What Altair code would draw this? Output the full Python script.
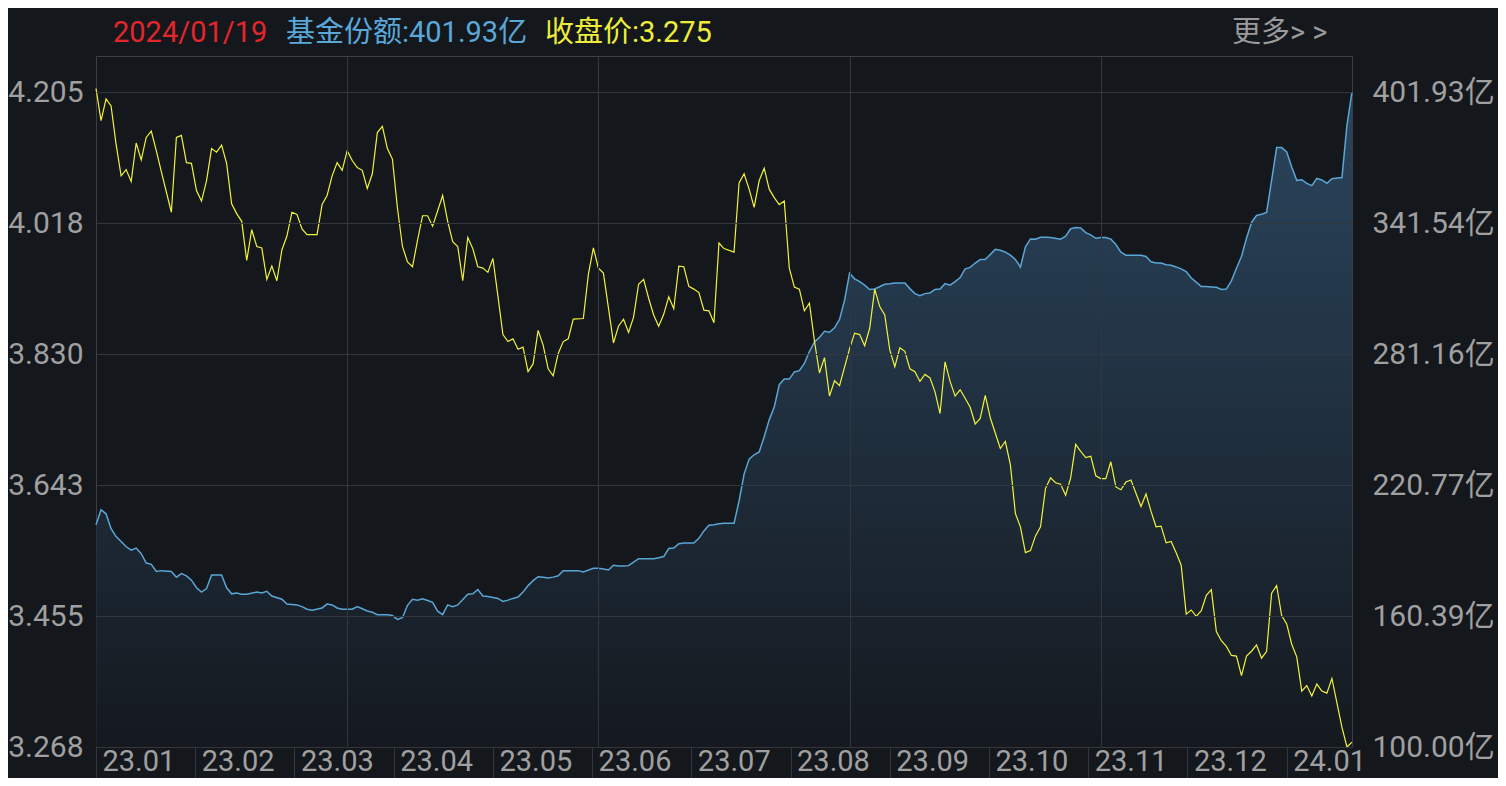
import json
import altair as alt
import pandas as pd

# ---------------- data ----------------
close_day = [0, 1, 2, 3, 4, 5, 6, 7, 8, 9, 10, 11, 12, 13, 15, 16, 17, 18, 19, 20,
             21, 22, 23, 24, 25, 26, 27, 28, 29, 30, 31, 32, 33, 34, 35, 36, 37, 38, 39, 40,
             41, 42, 44, 45, 46, 47, 48, 49, 50, 51, 52, 53, 54, 55, 56, 57, 58, 59, 60, 61,
             62, 63, 64, 65, 66, 67, 69, 70, 71, 72, 73, 74, 75, 76, 77, 78, 79, 80, 81, 82,
             83, 84, 85, 86, 87, 88, 89, 90, 91, 92, 93, 94, 95, 97, 98, 99, 100, 101, 102, 103,
             104, 105, 106, 107, 108, 109, 110, 111, 112, 113, 114, 115, 116, 117, 118, 119, 120, 121, 122, 123,
             124, 125, 127, 128, 129, 130, 131, 132, 133, 134, 135, 136, 137, 138, 139, 140, 141, 142, 143, 144,
             145, 146, 147, 148, 150, 151, 152, 153, 154, 155, 156, 157, 158, 159, 160, 161, 162, 163, 164, 165,
             166, 167, 168, 169, 170, 171, 172, 173, 174, 175, 176, 177, 178, 180, 181, 182, 183, 184, 185, 186,
             187, 188, 189, 190, 191, 192, 193, 194, 195, 196, 197, 198, 199, 200, 201, 202, 203, 204, 205, 206,
             208, 209, 210, 211, 212, 213, 214, 215, 216, 217, 218, 219, 220, 221, 222, 223, 224, 225, 226, 227,
             228, 229, 230, 231, 232, 233, 234, 235, 236, 237, 238, 239, 240, 241, 242, 243, 244, 245, 246, 248,
             249, 250]
close_val = [4.210, 4.164, 4.195, 4.185, 4.130, 4.085, 4.094, 4.077, 4.132, 4.108, 4.140, 4.149, 4.121, 4.091, 4.033, 4.140, 4.143, 4.104, 4.103, 4.064,
             4.049, 4.078, 4.124, 4.119, 4.129, 4.103, 4.045, 4.031, 4.020, 3.964, 4.008, 3.984, 3.982, 3.937, 3.956, 3.935, 3.979, 3.999, 4.033, 4.030,
             4.009, 4.001, 4.001, 4.044, 4.057, 4.085, 4.104, 4.093, 4.121, 4.107, 4.097, 4.093, 4.067, 4.088, 4.147, 4.156, 4.124, 4.109, 4.039, 3.984,
             3.962, 3.955, 3.993, 4.028, 4.028, 4.013, 4.057, 4.020, 3.991, 3.984, 3.935, 3.997, 3.981, 3.955, 3.953, 3.947, 3.967, 3.913, 3.858, 3.848,
             3.852, 3.837, 3.840, 3.805, 3.816, 3.864, 3.843, 3.809, 3.799, 3.831, 3.848, 3.852, 3.880, 3.881, 3.944, 3.982, 3.953, 3.946, 3.896, 3.846,
             3.870, 3.880, 3.861, 3.883, 3.930, 3.937, 3.910, 3.886, 3.870, 3.887, 3.912, 3.895, 3.956, 3.955, 3.927, 3.923, 3.918, 3.893, 3.892, 3.875,
             3.989, 3.981, 3.976, 4.075, 4.088, 4.066, 4.040, 4.078, 4.096, 4.066, 4.054, 4.044, 4.049, 3.953, 3.926, 3.923, 3.892, 3.903, 3.849, 3.803,
             3.825, 3.770, 3.792, 3.785, 3.838, 3.860, 3.858, 3.842, 3.867, 3.923, 3.898, 3.886, 3.836, 3.812, 3.839, 3.834, 3.809, 3.805, 3.791, 3.801,
             3.796, 3.776, 3.745, 3.819, 3.791, 3.770, 3.779, 3.767, 3.754, 3.730, 3.738, 3.771, 3.739, 3.695, 3.705, 3.672, 3.602, 3.583, 3.546, 3.549,
             3.570, 3.583, 3.638, 3.653, 3.646, 3.644, 3.628, 3.653, 3.701, 3.691, 3.682, 3.684, 3.656, 3.652, 3.652, 3.676, 3.640, 3.636, 3.647, 3.650,
             3.612, 3.630, 3.605, 3.583, 3.584, 3.560, 3.562, 3.546, 3.528, 3.458, 3.464, 3.455, 3.463, 3.485, 3.493, 3.433, 3.420, 3.412, 3.399, 3.398,
             3.370, 3.398, 3.405, 3.414, 3.395, 3.405, 3.488, 3.499, 3.456, 3.444, 3.415, 3.397, 3.348, 3.356, 3.341, 3.358, 3.348, 3.345, 3.366, 3.296,
             3.268, 3.275]

share_day = [0, 1, 2, 3, 4, 5, 6, 7, 8, 9, 10, 11, 12, 13, 15, 16, 17, 18, 19, 20,
             21, 22, 23, 25, 26, 27, 28, 29, 30, 32, 33, 34, 35, 37, 38, 40, 41, 42, 43, 45,
             46, 47, 48, 49, 51, 52, 53, 54, 55, 56, 58, 59, 60, 61, 62, 63, 64, 65, 66, 67,
             68, 69, 70, 71, 72, 74, 75, 76, 77, 78, 80, 81, 82, 83, 84, 85, 86, 87, 88, 89,
             90, 91, 92, 93, 95, 96, 97, 99, 100, 101, 102, 103, 104, 105, 106, 107, 108, 109, 111, 112,
             113, 114, 115, 116, 117, 119, 120, 121, 122, 123, 124, 125, 127, 128, 129, 130, 131, 132, 133, 134,
             135, 136, 137, 138, 139, 140, 141, 142, 143, 144, 145, 146, 147, 148, 149, 150, 151, 152, 153, 154,
             155, 157, 158, 159, 161, 162, 163, 164, 165, 166, 167, 168, 169, 170, 171, 172, 173, 174, 175, 176,
             177, 179, 180, 181, 182, 183, 184, 185, 186, 187, 188, 189, 190, 192, 193, 194, 195, 196, 197, 198,
             199, 200, 201, 202, 203, 204, 205, 206, 208, 209, 210, 211, 212, 213, 214, 215, 216, 217, 218, 219,
             220, 221, 222, 223, 224, 225, 226, 227, 228, 229, 230, 231, 232, 233, 234, 235, 236, 237, 238, 239,
             240, 241, 242, 243, 244, 245, 246, 248, 249, 250]
share_val = [202.5, 209.4, 207.5, 200.6, 197.0, 194.7, 192.3, 190.7, 191.7, 189.1, 184.8, 184.2, 180.9, 181.3, 180.9, 178.3, 179.9, 178.9, 176.9, 173.4,
             171.4, 173.0, 179.3, 179.3, 173.4, 170.6, 171.0, 170.4, 170.4, 171.4, 171.0, 171.8, 169.6, 168.1, 165.9, 165.5, 164.7, 163.5, 163.1, 164.1,
             165.9, 165.5, 164.1, 163.5, 163.5, 164.7, 163.7, 162.7, 162.1, 161.0, 161.0, 160.6, 158.8, 159.6, 165.3, 168.1, 167.7, 168.3, 167.5, 166.7,
             162.6, 161.0, 165.5, 164.7, 165.5, 170.4, 170.6, 172.6, 169.6, 169.4, 168.5, 167.1, 167.7, 168.5, 169.1, 171.4, 174.4, 176.7, 178.5, 178.3,
             177.9, 178.3, 178.9, 181.3, 181.3, 181.3, 180.7, 182.4, 182.4, 182.0, 181.6, 183.8, 183.4, 183.4, 183.6, 185.2, 186.8, 186.8, 186.8, 187.2,
             187.8, 191.5, 191.7, 193.7, 194.0, 194.0, 196.2, 199.6, 202.2, 202.5, 202.9, 203.1, 203.1, 213.4, 225.8, 232.7, 234.7, 236.0, 243.0, 250.8,
             256.7, 267.0, 269.6, 269.6, 272.9, 273.5, 276.8, 282.3, 286.7, 288.8, 291.6, 291.2, 293.2, 297.1, 306.0, 318.4, 315.8, 314.5, 312.9, 310.9,
             311.1, 313.3, 313.5, 313.9, 313.9, 311.3, 309.0, 308.0, 309.0, 309.3, 310.9, 311.1, 313.6, 312.9, 314.5, 316.4, 320.4, 321.1, 323.1, 324.7,
             324.7, 329.4, 329.0, 328.1, 326.7, 324.7, 321.2, 330.6, 334.2, 334.1, 335.0, 335.0, 334.9, 334.1, 335.5, 338.9, 339.5, 339.3, 337.1, 336.1,
             334.5, 334.9, 334.9, 334.1, 331.6, 328.1, 326.7, 326.7, 326.7, 326.1, 323.7, 323.1, 323.1, 322.3, 322.1, 321.3, 320.4, 319.2, 316.2, 314.3,
             312.3, 312.3, 312.1, 311.9, 310.9, 311.1, 314.9, 320.7, 326.1, 334.5, 341.8, 345.0, 345.6, 346.4, 361.2, 376.3, 376.3, 374.3, 367.4, 361.2,
             361.5, 359.8, 358.8, 362.1, 361.4, 359.9, 362.0, 362.5, 386.8, 401.93]

month_labels = ["23.01", "23.02", "23.03", "23.04", "23.05", "23.06", "23.07",
                "23.08", "23.09", "23.10", "23.11", "23.12", "24.01"]
month_pos = [0, 19.75, 39.5, 59.25, 79, 98.75, 118.5, 138.25, 158, 177.75, 197.5, 217.25, 237]
grid_days = [50, 100, 150, 200]
left_ticks = [3.268, 3.4554, 3.6428, 3.8302, 4.0176, 4.205]
right_ticks = [100.00, 160.386, 220.772, 281.158, 341.544, 401.93]
date_text = "2024/01/19"

# ---------------- styling ----------------
BG = "#14171c"
GRID = "#33373d"
FRAME = "#3c4046"
LABEL = "#a0a0a0"
BLUE = "#5aa6d6"
YELLOW = "#f2f23a"
FONT = "Roboto, 'Noto Sans CJK SC', sans-serif"

close_df = pd.DataFrame({"day": close_day, "close": close_val})
share_df = pd.DataFrame({"day": share_day, "share": share_val})

x_scale = alt.Scale(domain=[0, 250], nice=False, zero=False)
label_expr = json.dumps(month_labels) + "[round(datum.value / 19.75)]"

area = alt.Chart(share_df).mark_area(
    line={"color": BLUE, "strokeWidth": 1.5},
    color=alt.Gradient(
        gradient="linear",
        stops=[alt.GradientStop(color="#151a20", offset=0),
               alt.GradientStop(color="#34597a", offset=1)],
        x1=1, x2=1, y1=1, y2=0,
    ),
).encode(
    x=alt.X("day:Q", scale=x_scale,
            axis=alt.Axis(orient="bottom", values=month_pos, labelExpr=label_expr,
                          tickSize=40, tickColor=GRID, tickWidth=1,
                          labelAlign="left", labelOffset=6, labelPadding=-17,
                          labelBaseline="alphabetic", labelFontSize=29, labelColor=LABEL,
                          labelFont=FONT, labelFlush=False, labelOverlap=False,
                          domain=False, grid=False, title=None)),
    y=alt.Y("share:Q", scale=alt.Scale(domain=[100, 418.53], nice=False, zero=False),
            axis=alt.Axis(orient="right", values=right_ticks,
                          labelExpr="format(datum.value, '.2f') + '亿'",
                          labelPadding=20, ticks=False, domain=False, grid=False,
                          labelFontSize=30, labelColor=LABEL, labelFont=FONT,
                          labelFlush=False, labelOverlap=False, title=None)),
    y2=alt.datum(100),
)

line = alt.Chart(close_df).mark_line(color=YELLOW, strokeWidth=1.2).encode(
    x=alt.X("day:Q", scale=x_scale,
            axis=alt.Axis(orient="top", values=grid_days, grid=True, gridColor=GRID,
                          gridWidth=1, labels=False, ticks=False, domain=False,
                          title=None, zindex=1)),
    y=alt.Y("close:Q", scale=alt.Scale(domain=[3.268, 4.2565], nice=False, zero=False),
            axis=alt.Axis(orient="left", values=left_ticks, format=".3f", grid=True,
                          gridColor=GRID, gridWidth=1, ticks=False, domain=False,
                          labelPadding=13, labelFontSize=30, labelColor=LABEL,
                          labelFont=FONT, labelFlush=False, labelOverlap=False,
                          title=None, zindex=1)),
)


def header(text, x, color, size=29):
    return alt.Chart(alt.Data(values=[{"t": text}])).mark_text(
        align="left", baseline="alphabetic", fontSize=size, font=FONT, color=color
    ).encode(x=alt.value(x), y=alt.value(-14), text="t:N")


texts = [
    header(date_text, 17, "#e3262b"),
    header(f"基金份额:{share_val[-1]:.2f}亿", 190, "#5aa8da"),
    header(f"收盘价:{close_val[-1]:.3f}", 449, "#eeee3a"),
    header("更多> >", 1136, "#9a9a9a"),
]

chart = alt.layer(area, line, *texts).resolve_scale(
    y="independent"
).resolve_axis(
    x="independent", y="independent"
).properties(
    width=1256, height=691,
    autosize=alt.AutoSizeParams(type="none"),
    padding={"left": 88, "top": 48, "right": 146, "bottom": 31},
    background=BG,
).configure_view(stroke=FRAME, strokeWidth=1)

chart.save("out.html", embed_options={"renderer": "svg", "actions": False})
